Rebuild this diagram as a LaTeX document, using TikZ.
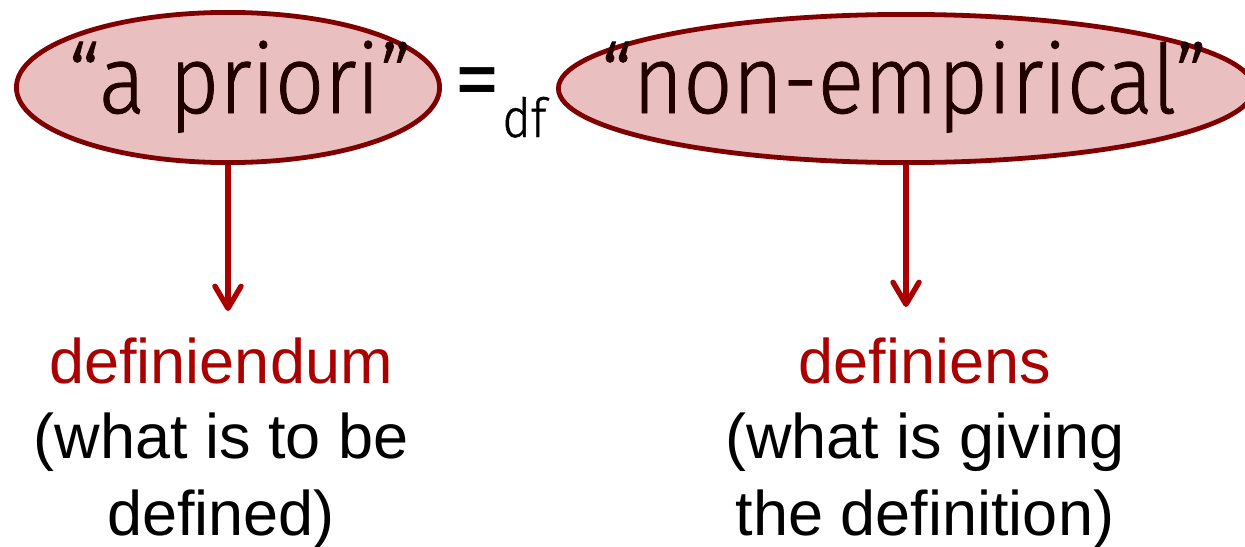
\documentclass[tikz,border=0pt]{standalone}
\usepackage{fontspec}
\setmainfont{Liberation Sans}
\newfontfamily\labfont[FakeStretch=0.9,FakeBold=0.8]{Fira Sans Light}
\newfontfamily\eqfont{Fira Sans}
\usetikzlibrary{arrows.meta,shapes.geometric}
\definecolor{ellfill}{HTML}{E9BFBF}
\definecolor{ellline}{HTML}{7F0000}
\definecolor{arr}{HTML}{AA0000}
\definecolor{ink}{HTML}{220000}
\begin{document}
\begin{tikzpicture}[x=0.5pt,y=-0.5pt,
 ell/.style={ellipse, draw=ellline, fill=ellfill, line width=2.4pt, inner sep=0pt},
 term/.style={font=\labfont\fontsize{48}{56}\selectfont, text=ink, inner sep=0pt, anchor=base},
 eqs/.style={font=\eqfont\fontsize{46}{56}\selectfont, text=black, inner sep=0pt},
 sub/.style={font=\labfont\fontsize{27}{30}\selectfont, text=black, inner sep=0pt, anchor=base west},
 conn/.style={draw=arr, line width=2.7pt, -{Straight Barb[length=11pt,width=13pt,line cap=round,line join=round]}},
 role/.style={font=\fontsize{31.5}{38}\selectfont, text=arr, inner sep=0pt, anchor=base},
 gloss/.style={font=\fontsize{31.5}{38}\selectfont, text=black, inner sep=0pt, anchor=base},
]
\useasboundingbox (0,0) rectangle (1245,546);
\clip (0,0) rectangle (1245,546);
\node[ell, minimum width=211.6pt, minimum height=75.1pt] (e1) at (228,87.5) {};
\node[ell, minimum width=347.6pt, minimum height=74.1pt] (e2) at (906,88.5) {};
\node[term] (t1) at (240,113) {“a priori”};
\node[term] (t2) at (904,113) {“non-empirical”};
\node[eqs] (eq) at (477,89.5) {=};
\node[sub] (df) at (502,137) {df};
\coordinate (a1) at (228,311);
\coordinate (a2) at (906,307);
\draw[conn] (e1.south) -- (a1);
\draw[conn] (e2.south) -- (a2);
\node[role] (r1) at (221,383) {definiendum};
\node[gloss] (g1a) at (221,458) {(what is to be};
\node[gloss] (g1b) at (221,535) {defined)};
\node[role] (r2) at (925,383) {definiens};
\node[gloss] (g2a) at (925,458) {(what is giving};
\node[gloss] (g2b) at (925,535) {the definition)};
\end{tikzpicture}
\end{document}
